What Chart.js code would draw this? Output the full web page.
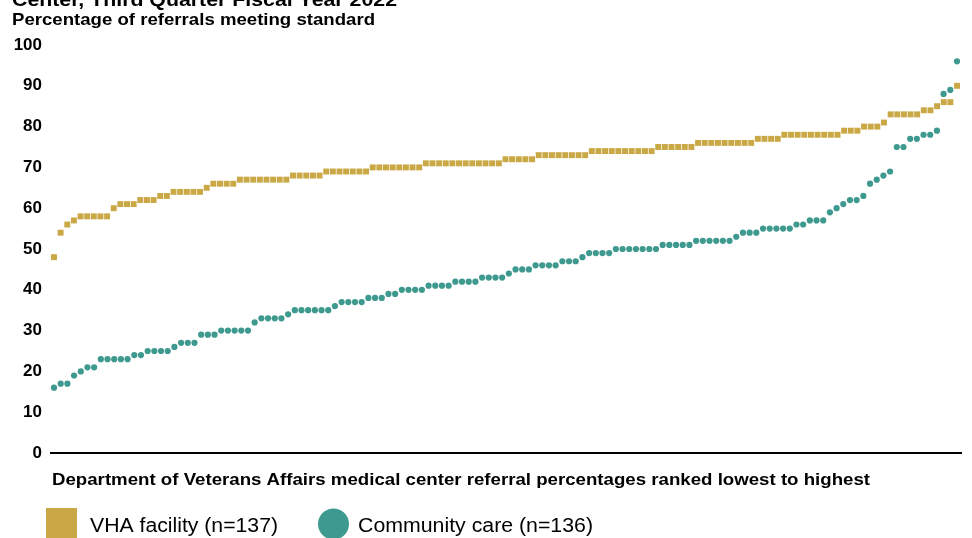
<!DOCTYPE html>
<html>
<head>
<meta charset="utf-8">
<script src="https://cdn.jsdelivr.net/npm/chart.js@4.4.1/dist/chart.umd.min.js"></script>
<style>
  html, body { margin: 0; padding: 0; background: #ffffff; }
  #wrap { width: 972px; height: 538px; position: relative; overflow: hidden; }
</style>
</head>
<body>
<div id="wrap"><canvas id="c" width="972" height="538"></canvas></div>
<script>
// ---- Data ----
const titleLine = "Center, Third Quarter Fiscal Year 2022";
const yAxisTitle = "Percentage of referrals meeting standard";
const xAxisTitle = "Department of Veterans Affairs medical center referral percentages ranked lowest to highest";
const seriesNames = ["VHA facility (n=137)", "Community care (n=136)"];
const yTicks = [0, 10, 20, 30, 40, 50, 60, 70, 80, 90, 100];

// VHA facility, ranked lowest to highest (137 medical centers)
const vhaValues = [
  48, 54, 56, 57, 58, 58, 58, 58, 58, 60,
  61, 61, 61, 62, 62, 62, 63, 63, 64, 64,
  64, 64, 64, 65, 66, 66, 66, 66, 67, 67,
  67, 67, 67, 67, 67, 67, 68, 68, 68, 68,
  68, 69, 69, 69, 69, 69, 69, 69, 70, 70,
  70, 70, 70, 70, 70, 70, 71, 71, 71, 71,
  71, 71, 71, 71, 71, 71, 71, 71, 72, 72,
  72, 72, 72, 73, 73, 73, 73, 73, 73, 73,
  73, 74, 74, 74, 74, 74, 74, 74, 74, 74,
  74, 75, 75, 75, 75, 75, 75, 76, 76, 76,
  76, 76, 76, 76, 76, 76, 77, 77, 77, 77,
  78, 78, 78, 78, 78, 78, 78, 78, 78, 79,
  79, 79, 80, 80, 80, 81, 83, 83, 83, 83,
  83, 84, 84, 85, 86, 86, 90
];

// Community care, ranked lowest to highest (136 medical centers)
const ccValues = [
  16, 17, 17, 19, 20, 21, 21, 23, 23, 23,
  23, 23, 24, 24, 25, 25, 25, 25, 26, 27,
  27, 27, 29, 29, 29, 30, 30, 30, 30, 30,
  32, 33, 33, 33, 33, 34, 35, 35, 35, 35,
  35, 35, 36, 37, 37, 37, 37, 38, 38, 38,
  39, 39, 40, 40, 40, 40, 41, 41, 41, 41,
  42, 42, 42, 42, 43, 43, 43, 43, 44, 45,
  45, 45, 46, 46, 46, 46, 47, 47, 47, 48,
  49, 49, 49, 49, 50, 50, 50, 50, 50, 50,
  50, 51, 51, 51, 51, 51, 52, 52, 52, 52,
  52, 52, 53, 54, 54, 54, 55, 55, 55, 55,
  55, 56, 56, 57, 57, 57, 59, 60, 61, 62,
  62, 63, 66, 67, 68, 69, 75, 75, 77, 77,
  78, 78, 79, 88, 89, 96
];

// ---- Styles ----
const GOLD = "#CBA846";
const TEAL = "#3E998F";
const FONT = "'Liberation Sans', Arial, Helvetica, sans-serif";

function toPoints(values) {
  return values.map((v, i) => ({ x: i + 1, y: v }));
}

// draw text with a fixed cap size, stretched horizontally to a target width
function stretchText(ctx, text, x, y, size, weight, targetWidth) {
  ctx.save();
  ctx.font = weight + " " + size + "px " + FONT;
  ctx.fillStyle = "#000";
  ctx.textBaseline = "alphabetic";
  ctx.textAlign = "left";
  const w = ctx.measureText(text).width;
  ctx.translate(x, y);
  ctx.scale(targetWidth / w, 1);
  ctx.fillText(text, 0, 0);
  ctx.restore();
}

const decorPlugin = {
  id: "decor",
  afterDraw(chart) {
    const ctx = chart.ctx;
    const ds = chart.data.datasets;
    // titles
    stretchText(ctx, titleLine, 12, 6, 19, "bold", 385);
    stretchText(ctx, yAxisTitle, 12, 25, 16.5, "bold", 363);
    stretchText(ctx, xAxisTitle, 52, 485, 16.5, "bold", 818);
    // legend
    ctx.save();
    ctx.fillStyle = ds[0].backgroundColor;
    ctx.fillRect(46, 508, 31, 31);
    ctx.fillStyle = ds[1].backgroundColor;
    ctx.beginPath();
    ctx.arc(333.5, 524, 15.5, 0, Math.PI * 2);
    ctx.fill();
    ctx.restore();
    stretchText(ctx, ds[0].label, 90, 532, 19.5, "normal", 188);
    stretchText(ctx, ds[1].label, 358, 532, 19.5, "normal", 235);
  }
};

new Chart(document.getElementById("c"), {
  type: "scatter",
  data: {
    datasets: [
      {
        label: seriesNames[0],
        data: toPoints(vhaValues),
        xAxisID: "xV",
        pointStyle: "rect",
        pointRadius: 4.2,
        pointHoverRadius: 4.2,
        backgroundColor: GOLD,
        borderColor: GOLD,
        borderWidth: 0,
        clip: false
      },
      {
        label: seriesNames[1],
        data: toPoints(ccValues),
        xAxisID: "xC",
        pointStyle: "circle",
        pointRadius: 3.1,
        pointHoverRadius: 3.1,
        backgroundColor: TEAL,
        borderColor: TEAL,
        borderWidth: 0,
        clip: false
      }
    ]
  },
  options: {
    responsive: false,
    animation: false,
    devicePixelRatio: 1,
    layout: { padding: { top: 45, bottom: 85, left: 0, right: 10 } },
    plugins: {
      legend: { display: false },
      tooltip: { enabled: false },
      title: { display: false }
    },
    scales: {
      y: {
        type: "linear",
        min: 0,
        max: 100,
        afterBuildTicks(scale) { scale.ticks = yTicks.map(v => ({ value: v })); },
        ticks: {
          color: "#000",
          padding: 8,
          font: { family: FONT, size: 17, weight: "bold" }
        },
        grid: {
          color: (c) => (c.tick && c.tick.value === 0 ? "#000" : "rgba(0,0,0,0)"),
          lineWidth: 2,
          drawTicks: false,
          tickLength: 0
        },
        border: { display: false },
        afterFit(scale) { scale.width = 50; }
      },
      xV: {
        type: "linear",
        display: false,
        min: 0.4,
        max: 137.75
      },
      xC: {
        type: "linear",
        display: false,
        min: 0.4,
        max: 136.75
      }
    }
  },
  plugins: [decorPlugin]
});
</script>
</body>
</html>
